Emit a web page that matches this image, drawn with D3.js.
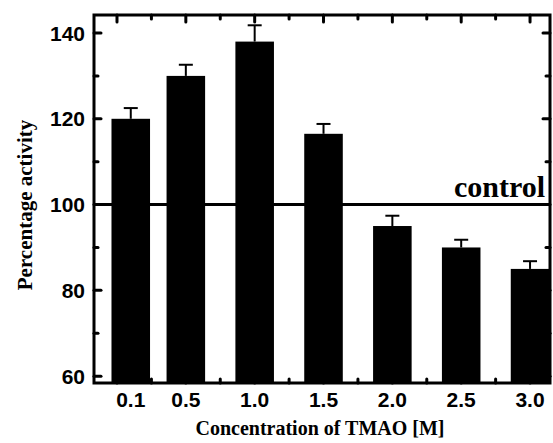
<!DOCTYPE html>
<html>
<head>
<meta charset="utf-8">
<script src="https://cdn.jsdelivr.net/npm/d3@7"></script>
<style>
  body { margin: 0; background: #fff; }
  svg { display: block; }
</style>
</head>
<body>
<div id="chart"></div>
<script>
// concentration of TMAO [M] (also the x position) and activity
const conc = [0.1, 0.5, 1.0, 1.5, 2.0, 2.5, 3.0];
const concLabels = ["0.1", "0.5", "1.0", "1.5", "2.0", "2.5", "3.0"];
const activity = [120, 130, 138, 116.5, 95, 90, 85];
const errors = [2.5, 2.6, 3.8, 2.3, 2.4, 1.8, 1.8];
const yTicks = [60, 80, 100, 120, 140];
const yMinor = [70, 90, 110, 130];
const xMajor = [0, 0.5, 1.0, 1.5, 2.0, 2.5, 3.0];
const xMinor = [0.25, 0.75, 1.25, 1.75, 2.25, 2.75];
const controlLevel = 100;

const width = 553, height = 443;
const margin = {top: 15, right: 3, bottom: 60, left: 94};

const svg = d3.select("#chart").append("svg")
  .attr("width", width)
  .attr("height", height);

const x = d3.scaleLinear()
  .domain([-0.167, 3.145])
  .range([margin.left, width - margin.right]);

const y = d3.scaleLinear()
  .domain([58.4, 144.2])
  .range([height - margin.bottom, margin.top]);

const barW = x(0.28) - x(0);
const x0 = margin.left, x1 = width - margin.right;
const y0 = height - margin.bottom, y1 = margin.top;

// ticks (inward), drawn first so the bars cover them
const ticks = svg.append("g")
  .attr("stroke", "#000")
  .attr("stroke-width", 3)
  .attr("stroke-linecap", "round");

const tick = (arr, len, fn) => arr.forEach(v => fn(v, len));
tick(yTicks, 7, (v, l) => {
  ticks.append("line").attr("x1", x0).attr("x2", x0 + l).attr("y1", y(v)).attr("y2", y(v));
  ticks.append("line").attr("x1", x1).attr("x2", x1 - l).attr("y1", y(v)).attr("y2", y(v));
});
tick(yMinor, 4, (v, l) => {
  ticks.append("line").attr("x1", x0).attr("x2", x0 + l).attr("y1", y(v)).attr("y2", y(v));
  ticks.append("line").attr("x1", x1).attr("x2", x1 - l).attr("y1", y(v)).attr("y2", y(v));
});
tick(xMajor, 7, (v, l) => {
  ticks.append("line").attr("x1", x(v)).attr("x2", x(v)).attr("y1", y1).attr("y2", y1 + l);
  ticks.append("line").attr("x1", x(v)).attr("x2", x(v)).attr("y1", y0).attr("y2", y0 - l);
});
tick(xMinor, 4, (v, l) => {
  ticks.append("line").attr("x1", x(v)).attr("x2", x(v)).attr("y1", y1).attr("y2", y1 + l);
  ticks.append("line").attr("x1", x(v)).attr("x2", x(v)).attr("y1", y0).attr("y2", y0 - l);
});

// bars
svg.append("g")
  .selectAll("rect")
  .data(conc)
  .join("rect")
  .attr("x", (d) => x(d) - barW / 2)
  .attr("y", (d, i) => y(activity[i]))
  .attr("width", barW)
  .attr("height", (d, i) => y0 - y(activity[i]))
  .attr("fill", "#000");

// error bars (upper only)
const err = svg.append("g").attr("stroke", "#000").attr("stroke-width", 2);
conc.forEach((d, i) => {
  err.append("line")
    .attr("x1", x(d)).attr("x2", x(d))
    .attr("y1", y(activity[i])).attr("y2", y(activity[i] + errors[i]));
  err.append("line")
    .attr("x1", x(d) - 7).attr("x2", x(d) + 7)
    .attr("y1", y(activity[i] + errors[i])).attr("y2", y(activity[i] + errors[i]));
});

// control line
svg.append("line")
  .attr("x1", x0).attr("x2", x1)
  .attr("y1", y(controlLevel)).attr("y2", y(controlLevel))
  .attr("stroke", "#000")
  .attr("stroke-width", 3);

svg.append("text")
  .attr("x", x1 - 5)
  .attr("y", y(controlLevel) - 8)
  .attr("text-anchor", "end")
  .attr("font-family", "Liberation Serif, Times New Roman, serif")
  .attr("font-weight", "bold")
  .attr("font-size", 30)
  .text("control");

// frame
svg.append("rect")
  .attr("x", x0).attr("y", y1)
  .attr("width", x1 - x0).attr("height", y0 - y1)
  .attr("fill", "none")
  .attr("stroke", "#000")
  .attr("stroke-width", 3);

// tick labels
svg.append("g")
  .selectAll("text")
  .data(yTicks)
  .join("text")
  .attr("x", x0 - 9)
  .attr("y", (d) => y(d))
  .attr("dy", "0.36em")
  .attr("text-anchor", "end")
  .attr("font-family", "Liberation Sans, Arial, sans-serif")
  .attr("font-weight", "bold")
  .attr("font-size", 21)
  .text((d) => d);

svg.append("g")
  .selectAll("text")
  .data(conc)
  .join("text")
  .attr("x", (d) => x(d))
  .attr("y", y0 + 24)
  .attr("text-anchor", "middle")
  .attr("font-family", "Liberation Sans, Arial, sans-serif")
  .attr("font-weight", "bold")
  .attr("font-size", 21)
  .text((d, i) => concLabels[i]);

// axis titles
svg.append("text")
  .attr("transform", `translate(32,205) rotate(-90)`)
  .attr("text-anchor", "middle")
  .attr("font-family", "Liberation Serif, Times New Roman, serif")
  .attr("font-weight", "bold")
  .attr("font-size", 21)
  .text("Percentage activity");

svg.append("text")
  .attr("x", 320)
  .attr("y", height - 8)
  .attr("text-anchor", "middle")
  .attr("font-family", "Liberation Serif, Times New Roman, serif")
  .attr("font-weight", "bold")
  .attr("font-size", 20)
  .text("Concentration of TMAO [M]");
</script>
</body>
</html>
